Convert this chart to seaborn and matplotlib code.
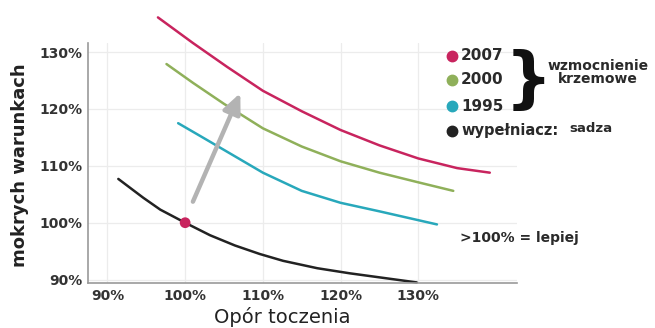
import matplotlib
matplotlib.use("Agg")
import matplotlib.pyplot as plt
import seaborn as sns
import pandas as pd

# --- data (x: rolling resistance %, y: wet grip %) ---
red_x = [96.5, 101.0, 105.4, 110.0, 115.0, 120.0, 125.0, 130.0, 135.0, 139.2]
red_y = [136.1, 131.6, 127.4, 123.2, 119.6, 116.3, 113.6, 111.3, 109.6, 108.8]
green_x = [97.6, 101.0, 105.0, 110.0, 115.0, 120.0, 125.0, 130.0, 134.5]
green_y = [127.9, 124.6, 120.9, 116.6, 113.4, 110.8, 108.8, 107.1, 105.6]
cyan_x = [99.1, 102.0, 105.0, 110.0, 115.0, 120.0, 125.0, 132.4]
cyan_y = [117.5, 115.2, 112.8, 108.8, 105.6, 103.5, 102.0, 99.7]
black_x = [91.4, 94.6, 96.8, 100.0, 103.2, 106.4, 109.6, 112.6, 117.0, 121.2,
           125.5, 129.8]
black_y = [107.7, 104.4, 102.3, 100.0, 97.8, 96.0, 94.5, 93.3, 92.0, 91.1,
           90.3, 89.5]
ref_point = (100.0, 100.0)
arrow_from = (101.0, 103.7)
arrow_to = (107.1, 122.8)

series_names = ["2007", "2000", "1995", "sadza"]
colors = ["#c8245e", "#8fb05a", "#28a8bb", "#222222"]
x_ticks = [90, 100, 110, 120, 130]
y_ticks = [90, 100, 110, 120, 130]
tick_labels_x = ["90%", "100%", "110%", "120%", "130%"]
tick_labels_y = ["90%", "100%", "110%", "120%", "130%"]

frames = []
for name, xs, ys in zip(series_names, [red_x, green_x, cyan_x, black_x],
                        [red_y, green_y, cyan_y, black_y]):
    frames.append(pd.DataFrame({"x": xs, "y": ys, "s": name}))
df = pd.concat(frames, ignore_index=True)

sns.set_theme(style="white")
plt.rcParams["font.family"] = ["DejaVu Sans"]

fig = plt.figure(figsize=(6.55, 3.28), dpi=100)
W, H = 655, 328
ax = fig.add_axes([88 / W, 1 - 283 / H, (517 - 88) / W, (283 - 43) / H])

sns.lineplot(data=df, x="x", y="y", hue="s", hue_order=series_names,
             palette=dict(zip(series_names, colors)), sort=False,
             estimator=None, linewidth=1.8, legend=False, ax=ax)
for ln in ax.get_lines():
    ln.set_clip_on(False)
    ln.set_solid_capstyle("round")
    ln.set_solid_joinstyle("round")

ax.scatter([ref_point[0]], [ref_point[1]], s=60, color="#c8245e", zorder=5,
           clip_on=False, edgecolor="none")

ax.annotate("", xy=arrow_to, xytext=arrow_from,
            arrowprops=dict(arrowstyle="-|>,head_width=0.45,head_length=1.0",
                            color="#b3b3b3", lw=3.2, shrinkA=0, shrinkB=0))

ax.set_xlim(87.5, 142.7)
ax.set_ylim(89.4, 131.6)
ax.set_xticks(x_ticks)
ax.set_xticklabels(tick_labels_x)
ax.set_yticks(y_ticks)
ax.set_yticklabels(tick_labels_y)
ax.grid(True, color="#ececec", linewidth=0.9)
ax.tick_params(length=0, labelsize=10, colors="#333333", pad=4)
for lab in ax.get_xticklabels() + ax.get_yticklabels():
    lab.set_fontweight("bold")
for s in ["top", "right"]:
    ax.spines[s].set_visible(False)
for s in ["left", "bottom"]:
    ax.spines[s].set_color("#9a9a9a")
    ax.spines[s].set_linewidth(1.2)

ax.set_xlabel("Opór toczenia", fontsize=14, color="#222222", va="center")
ax.set_ylabel("mokrych warunkach", fontsize=13, fontweight="bold",
              color="#222222", va="center")
ax.xaxis.set_label_coords((282 - 88) / (517 - 88), -(317 - 283) / (283 - 43))
ax.yaxis.set_label_coords(-(88 - 20) / (517 - 88), (283 - 165) / (283 - 43))

# legend drawn manually in figure pixels
legend_rows = [("2007", colors[0], 56, 11), ("2000", colors[1], 80, 11),
               ("1995", colors[2], 106, 11), ("wypełniacz:", colors[3], 131, 10.5)]
for label, col, py, fs in legend_rows:
    ax.plot([452 / W], [1 - py / H], marker="o", markersize=7.5, color=col,
            transform=fig.transFigure, clip_on=False, linestyle="none")
    fig.text(461 / W, 1 - py / H, label, fontsize=fs,
             fontweight="bold", color="#2a2a2a", va="center", ha="left")
fig.text(569 / W, 1 - 129 / H, "sadza", fontsize=9.5, fontweight="bold",
         color="#2a2a2a", va="center", ha="left")
fig.text(528 / W, 1 - 82 / H, "}", fontsize=48, fontweight="bold",
         color="#111111", va="center", ha="center")
fig.text(598 / W, 1 - 66 / H, "wzmocnienie", fontsize=10, fontweight="bold",
         color="#2a2a2a", va="center", ha="center")
fig.text(598 / W, 1 - 79 / H, "krzemowe", fontsize=10, fontweight="bold",
         color="#2a2a2a", va="center", ha="center")
fig.text(460 / W, 1 - 238 / H, ">100% = lepiej", fontsize=10, fontweight="bold",
         color="#2a2a2a", va="center", ha="left")

fig.savefig("out.png", dpi=100)
